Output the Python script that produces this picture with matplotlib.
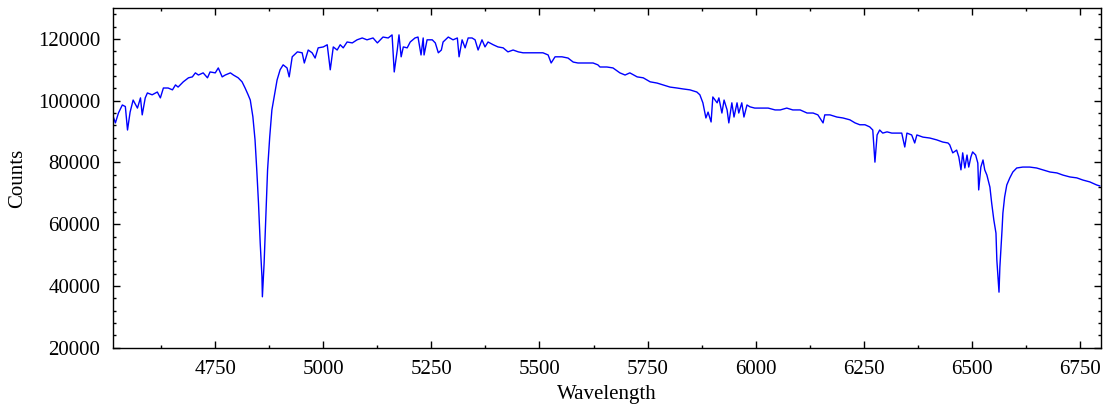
import matplotlib
matplotlib.use("Agg")
import matplotlib.pyplot as plt
from matplotlib.ticker import MultipleLocator

# spectrum (wavelength, counts)
wavelength = [
    4514, 4519, 4526, 4535, 4542, 4547, 4553, 4560, 4570, 4577, 4581, 4588, 4593,
    4604, 4616, 4623, 4630, 4641, 4651, 4658, 4664, 4676, 4688, 4697, 4704, 4711,
    4722, 4732, 4738, 4750, 4757, 4766, 4773, 4785, 4792, 4803, 4812, 4819, 4826,
    4831, 4837, 4842, 4846, 4850, 4854, 4858, 4859, 4863, 4867, 4871, 4876, 4881,
    4887, 4893, 4900, 4907, 4916, 4921, 4928, 4940, 4951, 4956, 4965, 4974, 4981,
    4988, 5000, 5009, 5016, 5023, 5032, 5039, 5046, 5055, 5067, 5078, 5090, 5101,
    5115, 5125, 5138, 5150, 5159, 5164, 5171, 5175, 5180, 5185, 5194, 5201, 5212,
    5219, 5226, 5231, 5233, 5240, 5252, 5259, 5266, 5273, 5277, 5289, 5300, 5310,
    5314, 5321, 5328, 5335, 5344, 5351, 5358, 5367, 5374, 5381, 5393, 5404, 5416,
    5427, 5439, 5451, 5462, 5474, 5485, 5497, 5508, 5520, 5527, 5536, 5552, 5566,
    5578, 5589, 5601, 5612, 5624, 5635, 5640, 5656, 5670, 5686, 5698, 5709, 5726,
    5740, 5756, 5772, 5786, 5802, 5818, 5832, 5848, 5864, 5871, 5878, 5885, 5890,
    5897, 5901, 5911, 5915, 5922, 5927, 5934, 5938, 5945, 5950, 5957, 5961, 5968,
    5973, 5980, 5987, 5998, 6015, 6029, 6045, 6057, 6072, 6086, 6103, 6119, 6133,
    6144, 6156, 6160, 6172, 6188, 6202, 6218, 6230, 6241, 6253, 6264, 6271, 6276,
    6281, 6287, 6294, 6304, 6315, 6327, 6338, 6345, 6350, 6361, 6368, 6373, 6387,
    6403, 6419, 6433, 6445, 6449, 6456, 6465, 6470, 6475, 6479, 6484, 6489, 6493,
    6498, 6502, 6509, 6514, 6516, 6521, 6526, 6530, 6535, 6542, 6546, 6551, 6556,
    6558, 6563, 6565, 6570, 6572, 6576, 6581, 6588, 6595, 6604, 6618, 6634, 6650,
    6664, 6681, 6697, 6711, 6727, 6743, 6757, 6773, 6789, 6796,
]
counts = [
    94800, 92800, 96000, 98600, 98100, 90500, 96300, 100200, 97600, 100900, 95400, 100900, 102500,
    101900, 102800, 100900, 104100, 104100, 103500, 105100, 104400, 106100, 107400, 107700, 109000, 108300,
    109000, 107400, 109300, 109000, 110600, 107700, 108300, 109000, 108300, 107400, 106100, 104100, 101900,
    100200, 94800, 87300, 77600, 66800, 53800, 43000, 36500, 47400, 62400, 77600, 88300, 97000,
    101900, 106700, 110000, 111600, 110600, 107700, 114200, 115800, 115500, 112200, 116400, 115500, 113800,
    117100, 117400, 118100, 110000, 117400, 116400, 118100, 117100, 119000, 118700, 119700, 120300, 119700,
    120300, 118700, 120600, 120300, 121300, 109300, 116400, 121300, 114200, 117400, 117100, 119000, 120300,
    120600, 114800, 120300, 114800, 119700, 119700, 118700, 115500, 116400, 119000, 120600, 119700, 120300,
    114200, 119700, 117100, 120300, 120300, 119700, 116400, 119700, 117400, 119000, 118100, 117400, 117100,
    115800, 116400, 115800, 115500, 115500, 115500, 115500, 115500, 114800, 112200, 114200, 114200, 113800,
    112500, 112200, 112200, 112200, 112200, 111600, 110900, 110900, 110600, 109000, 108300, 109000, 107700,
    107400, 106100, 105700, 105100, 104400, 104100, 103800, 103500, 102800, 101900, 99300, 94400, 96300,
    93100, 101200, 99300, 100900, 96000, 100200, 97000, 92800, 99300, 94700, 99300, 96000, 99300,
    94700, 98600, 98000, 97600, 97600, 97600, 97000, 97000, 97600, 97000, 97000, 96000, 96000,
    95400, 92800, 95400, 95400, 94700, 94400, 93800, 92800, 92200, 92200, 91500, 90500, 80100,
    88900, 90500, 89500, 89900, 89500, 89500, 89500, 85000, 89500, 88900, 86300, 88900, 88200,
    87900, 87300, 86600, 86300, 85700, 83100, 84000, 81800, 77600, 83100, 78200, 82400, 78500,
    81800, 83400, 82400, 79800, 71100, 78500, 80800, 77600, 75900, 72000, 66900, 61400, 57100,
    48400, 38000, 46100, 58100, 63600, 68800, 72700, 75000, 76900, 78200, 78500, 78500, 78200,
    77600, 76900, 76600, 75900, 75300, 75000, 74300, 73700, 72700, 72400,
]

plt.rcParams["font.family"] = ["Liberation Serif", "DejaVu Serif"]
plt.rcParams["font.size"] = 15

fig = plt.figure(figsize=(11.06, 4.13), dpi=100)
ax = fig.add_axes([0.102, 0.158, 0.8935, 0.8226])

ax.plot(wavelength, counts, color="#0000ff", lw=1.0)

ax.set_xlim(4513, 6799)
ax.set_ylim(20000, 130000)
ax.xaxis.set_major_locator(MultipleLocator(250))
ax.xaxis.set_minor_locator(MultipleLocator(125))
ax.yaxis.set_major_locator(MultipleLocator(20000))
ax.yaxis.set_minor_locator(MultipleLocator(4000))
ax.tick_params(which="both", direction="in", top=True, right=True, width=1)
ax.tick_params(which="major", length=5, pad=9)
ax.tick_params(which="minor", length=2.5)
for s in ax.spines.values():
    s.set_linewidth(1.0)

ax.set_xlabel("Wavelength", labelpad=4)
ax.set_ylabel("Counts", labelpad=8)

fig.savefig("out.png", dpi=100)
